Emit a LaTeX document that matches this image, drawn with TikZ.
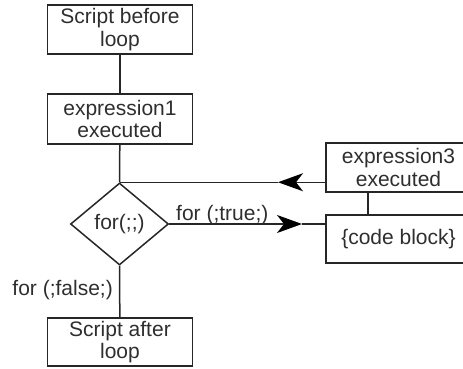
\documentclass[tikz,border=0pt]{standalone}
\usepackage{fontspec}
\setmainfont{Liberation Sans}
\usetikzlibrary{shapes.geometric,arrows.meta}
\definecolor{ink}{HTML}{262626}
\definecolor{txt}{HTML}{2E2E2E}
\tikzset{
  box/.style={draw=ink, line width=1.5pt, minimum width=145pt, minimum height=49pt, inner sep=0pt, align=center, text=txt, font=\fontsize{21}{22.5}\selectfont},
  dec/.style={draw=ink, line width=1.5pt, diamond, aspect=1.195, minimum width=98pt, minimum height=82pt, inner sep=0pt, text=txt, font=\fontsize{21}{22.5}\selectfont},
  conn/.style={draw=ink, line width=1.5pt},
  arr/.style={draw=ink, line width=1.5pt, -{Stealth[length=25pt,width=18pt,inset=7pt,color=black]}},
  lbl/.style={text=txt, inner sep=0pt, font=\fontsize{21}{22.5}\selectfont}
}
\begin{document}
\begin{tikzpicture}[x=1pt,y=-1pt]
\useasboundingbox (0,0) rectangle (463,369);
\clip (0,0) rectangle (463,369);
\node[box] (b1) at (120,29.5) {Script before\\loop};
\node[box, minimum height=50pt] (b2) at (120,119) {expression1\\executed};
\node[dec] (d) at (119.5,224) {for(;;)};
\node[box] (e3) at (398.5,167.5) {expression3\\executed};
\node[box, minimum height=48pt] (code) at (398.5,239) {\{code block\}};
\node[box, minimum height=48pt] (b4) at (120,342) {Script after\\loop};
\coordinate (tipR) at (302,0);
\coordinate (tipL) at (278,0);
\coordinate (link) at (368,0);
\draw[conn] (b1) -- (b2);
\draw[conn] (b2) -- (d.north);
\draw[conn] (d.south) -- (b4);
\draw[arr] (e3.west |- d.north) -- (tipL |- d.north);
\draw[conn] (tipL |- d.north) -- (d.north);
\draw[arr] (d.east) -- (tipR |- d.east);
\draw[conn] (tipR |- d.east) -- (code.west |- d.east);
\draw[conn] (link |- e3.south) -- (link |- code.north);
\node[lbl, anchor=base west] (tl) at (176,220) {for (;true;)};
\node[lbl, anchor=east] (fl) at (113,290) {for (;false;)};
\end{tikzpicture}
\end{document}
